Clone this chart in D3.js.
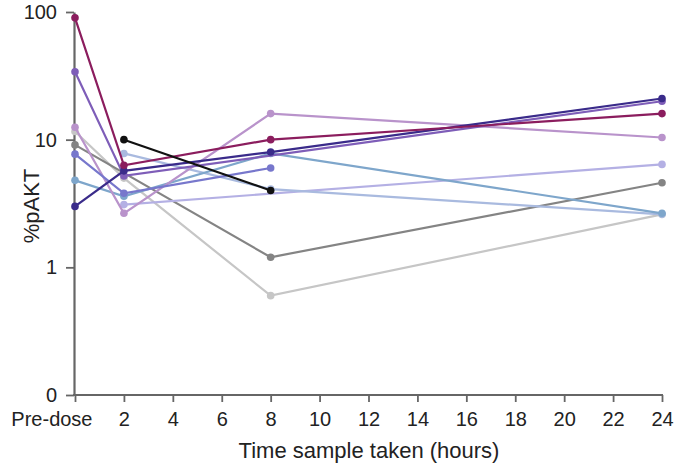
<!DOCTYPE html>
<html>
<head>
<meta charset="utf-8">
<script src="https://cdn.jsdelivr.net/npm/d3@7"></script>
<style>
  body { margin: 0; background: #fff; }
  svg { display: block; font-family: "Liberation Sans", Arial, sans-serif; }
</style>
</head>
<body>
<svg id="chart" width="675" height="464"></svg>
<script>
// Time points (hours); 0 = pre-dose
const times = [0, 2, 8, 24];
const xTickValues = [0, 2, 4, 6, 8, 10, 12, 14, 16, 18, 20, 22, 24];
const xTickLabels = ["Pre-dose", "2", "4", "6", "8", "10", "12", "14", "16", "18", "20", "22", "24"];
const yTickValues = [0.1, 1, 10, 100];
const yTickLabels = ["0", "1", "10", "100"];

// %pAKT per patient at [pre-dose, 2h, 8h, 24h]; null = not sampled
const seriesLightGrey  = [11.6, 5.0, 0.6, 2.6];
const seriesDarkGrey   = [9.1, null, 1.2, 4.6];
const seriesLavender   = [null, 3.1, null, 6.4];
const seriesPeriwinkle = [null, 7.8, 4.1, 2.6];
const seriesSteel      = [4.8, 3.6, 7.8, 2.65];
const seriesPink       = [12.5, 2.65, 16, 10.4];
const seriesBluePurple = [7.7, 3.8, 6.0, null];
const seriesPurple     = [34, 5.2, null, 20];
const seriesNavy       = [3.0, 5.7, 8.0, 21];
const seriesMagenta    = [90, 6.3, 10, 16];
const seriesBlack      = [null, 10, 4.0, null];

const seriesList = [
  { values: seriesLightGrey,  color: "#c6c6c6" },
  { values: seriesDarkGrey,   color: "#848484" },
  { values: seriesLavender,   color: "#b4b0e4" },
  { values: seriesPeriwinkle, color: "#a9badf" },
  { values: seriesSteel,      color: "#7ea6cb" },
  { values: seriesPink,       color: "#b993cb" },
  { values: seriesBluePurple, color: "#7777cc" },
  { values: seriesPurple,     color: "#7e5db8" },
  { values: seriesNavy,       color: "#3a2b8a" },
  { values: seriesMagenta,    color: "#8b1d5e" },
  { values: seriesBlack,      color: "#111111" }
];

const svg = d3.select("#chart");
const axisColor = "#666";
const textColor = "#222";

const x = d3.scaleLinear().domain([0, 24]).range([75, 662]);
const y = d3.scaleLog().domain([0.1, 100]).range([395, 12]);

// Y axis
const yAxis = d3.axisLeft(y)
  .tickValues(yTickValues)
  .tickFormat((d, i) => yTickLabels[i])
  .tickSize(8)
  .tickSizeOuter(0)
  .tickPadding(9);
const gy = svg.append("g").attr("transform", "translate(74,0)").call(yAxis);
gy.select(".domain").attr("stroke", axisColor).attr("stroke-width", 2.2);
gy.selectAll(".tick line").attr("stroke", axisColor).attr("stroke-width", 1.8);
gy.selectAll(".tick text").attr("fill", textColor).style("font-size", "20px");

// X axis
const xAxis = d3.axisBottom(x)
  .tickValues(xTickValues)
  .tickFormat((d, i) => xTickLabels[i])
  .tickSize(7)
  .tickSizeOuter(0)
  .tickPadding(10);
const gx = svg.append("g").attr("transform", "translate(0,395)").call(xAxis);
gx.select(".domain").attr("stroke", axisColor).attr("stroke-width", 2.2)
  .attr("d", `M73,0H${x(24) + 1}`);
gx.selectAll(".tick line").attr("stroke", axisColor).attr("stroke-width", 1.8);
gx.selectAll(".tick text").attr("fill", textColor).style("font-size", "20px");
gx.selectAll(".tick text").filter(d => d === 0)
  .attr("text-anchor", "end").attr("dx", "17");

// Axis titles
svg.append("text")
  .attr("transform", "translate(39,206) rotate(-90)")
  .attr("text-anchor", "middle")
  .attr("fill", textColor)
  .style("font-size", "22px")
  .text("%pAKT");
svg.append("text")
  .attr("x", 369).attr("y", 458)
  .attr("text-anchor", "middle")
  .attr("fill", textColor)
  .style("font-size", "22px")
  .text("Time sample taken (hours)");

// Lines and points
const line = d3.line().x(d => x(d.t)).y(d => y(d.v));
seriesList.forEach(s => {
  const pts = s.values.map((v, i) => ({ t: times[i], v })).filter(d => d.v !== null);
  svg.append("path")
    .datum(pts)
    .attr("fill", "none")
    .attr("stroke", s.color)
    .attr("stroke-width", 2.2)
    .attr("d", line);
  svg.selectAll(null)
    .data(pts)
    .enter().append("circle")
    .attr("cx", d => x(d.t))
    .attr("cy", d => y(d.v))
    .attr("r", 3.8)
    .attr("fill", s.color);
});
</script>
</body>
</html>
